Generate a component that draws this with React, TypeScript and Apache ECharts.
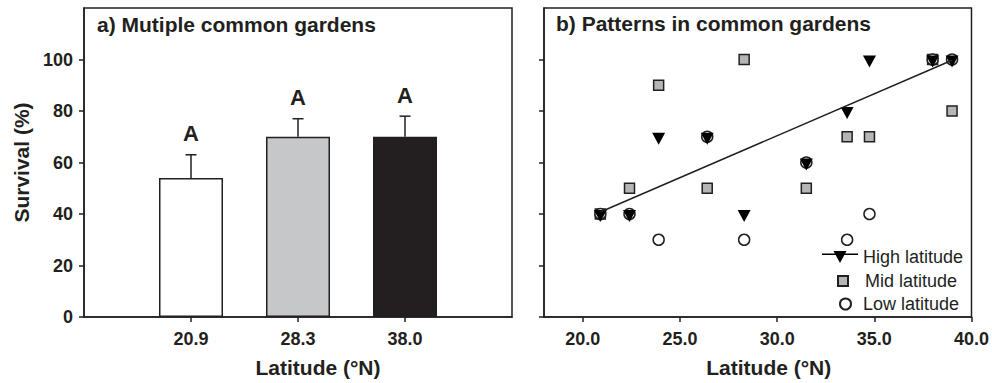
import React, { useEffect, useRef } from "react";
import * as echarts from "echarts";

// ---- Panel a) data ----
const latitudeLabels = ["20.9", "28.3", "38.0"];
const survivalMean = [54, 70, 70];
const survivalErr = [9, 7, 8];
const groupLetters = ["A", "A", "A"];
const barColors = ["#ffffff", "#c6c7c9", "#231f20"];

// ---- Panel b) data ----
const siteLat = [20.9, 22.4, 23.9, 26.4, 28.3, 31.5, 33.6, 34.75, 38.0, 39.0];
const highSurv = [40, 40, 70, 70, 40, 60, 80, 100, 100, 100];
const midSurv = [40, 50, 90, 50, 100, 50, 70, 70, 100, 80];
const lowSurv = [40, 40, 30, 70, 30, 60, 30, 40, 100, 100];

const yTicks = [0, 20, 40, 60, 80, 100];
const xTicksB = [20, 25, 30, 35, 40];

const FONT = "'Liberation Sans', Arial, Helvetica, sans-serif";
const INK = "#231f20";

function linFit(xs: number[], ys: number[]) {
  const n = xs.length;
  const mx = xs.reduce((a, b) => a + b, 0) / n;
  const my = ys.reduce((a, b) => a + b, 0) / n;
  let sxy = 0, sxx = 0;
  for (let i = 0; i < n; i++) {
    sxy += (xs[i] - mx) * (ys[i] - my);
    sxx += (xs[i] - mx) * (xs[i] - mx);
  }
  const slope = sxy / sxx;
  return { slope, intercept: my - slope * mx };
}

export default function App() {
  const ref = useRef<HTMLDivElement>(null);
  useEffect(() => {
    if (!ref.current) return;
    const chart = echarts.init(ref.current, undefined, { renderer: "svg" });

    const cats = ["", ...latitudeLabels, ""];
    const barData = [null as any].concat(
      survivalMean.map((v, i) => ({ value: v, itemStyle: { color: barColors[i] } })),
      [null]
    );
    const errData = survivalMean.map((v, i) => [i + 1, v, survivalErr[i]]);

    const fit = linFit(siteLat, highSurv);
    const xMin = Math.min(...siteLat);
    const xMax = Math.max(...siteLat);
    const fitData = [
      [xMin, fit.intercept + fit.slope * xMin],
      [xMax, fit.intercept + fit.slope * xMax],
    ];

    const axisLineStyle = { lineStyle: { color: INK, width: 1.5 } };
    const tickLabel = { color: INK, fontFamily: FONT, fontWeight: "bold" as const, fontSize: 18 };
    const nameStyle = { color: INK, fontFamily: FONT, fontWeight: "bold" as const, fontSize: 21 };

    const option: any = {
      animation: false,
      backgroundColor: "#ffffff",
      title: [
        {
          text: "a) Mutiple common gardens",
          left: 97,
          top: 14,
          padding: 0,
          textStyle: { ...nameStyle },
        },
        {
          text: "b) Patterns in common gardens",
          left: 556,
          top: 13,
          padding: 0,
          textStyle: { ...nameStyle },
        },
      ],
      grid: [
        { left: 84, top: 8, width: 428, height: 309, show: true, borderColor: INK, borderWidth: 1.5, backgroundColor: "transparent" },
        { left: 544, top: 8, width: 428, height: 309, show: true, borderColor: INK, borderWidth: 1.5, backgroundColor: "transparent" },
      ],
      xAxis: [
        {
          type: "category",
          gridIndex: 0,
          data: cats,
          boundaryGap: false,
          axisLine: axisLineStyle,
          axisTick: {
            length: 5,
            lineStyle: { color: INK, width: 1.5 },
            interval: (idx: number) => idx >= 1 && idx <= latitudeLabels.length,
          },
          axisLabel: { ...tickLabel, margin: 13, interval: 0 },
          splitLine: { show: false },
          name: "Latitude (°N)",
          nameLocation: "middle",
          nameGap: 40,
          nameTextStyle: { ...nameStyle, padding: [0, 0, 0, 40] },
        },
        {
          type: "value",
          gridIndex: 1,
          min: 18,
          max: 40,
          axisLine: axisLineStyle,
          axisTick: { length: 5, lineStyle: { color: INK, width: 1.5 }, customValues: xTicksB },
          axisLabel: { ...tickLabel, margin: 13, customValues: xTicksB, formatter: (v: number) => v.toFixed(1) },
          splitLine: { show: false },
          name: "Latitude (°N)",
          nameLocation: "middle",
          nameGap: 40,
          nameTextStyle: { ...nameStyle, padding: [0, 0, 0, 22] },
        },
      ],
      yAxis: [
        {
          type: "value",
          gridIndex: 0,
          min: 0,
          max: 120,
          axisLine: { show: true, ...axisLineStyle },
          axisTick: { show: true, length: 5, lineStyle: { color: INK, width: 1.5 }, customValues: yTicks },
          axisLabel: { ...tickLabel, margin: 11, customValues: yTicks },
          splitLine: { show: false },
          name: "Survival (%)",
          nameLocation: "middle",
          nameGap: 52,
          nameTextStyle: { ...nameStyle },
        },
        {
          type: "value",
          gridIndex: 1,
          min: 0,
          max: 120,
          axisLine: { show: true, ...axisLineStyle },
          axisTick: { show: true, length: 5, lineStyle: { color: INK, width: 1.5 }, customValues: yTicks },
          axisLabel: { show: false },
          splitLine: { show: false },
        },
      ],
      legend: [
        {
          data: [
            {
              name: "High latitude",
              icon: "path://M0,2.5L36,2.5L36,4L0,4Z M11.5,0L24.5,0L18,12Z",
              itemStyle: { color: "#000000", borderWidth: 0 },
            },
          ],
          left: 822,
          top: 248,
          padding: 0,
          itemWidth: 36,
          itemHeight: 12,
          selectedMode: false,
          textStyle: { color: INK, fontFamily: FONT, fontSize: 18 },
        },
        {
          data: [{ name: "Mid latitude", icon: "rect" }],
          left: 837,
          top: 272,
          padding: 0,
          itemWidth: 10,
          itemHeight: 10,
          selectedMode: false,
          textStyle: { color: INK, fontFamily: FONT, fontSize: 18, padding: [0, 0, 0, 12] },
        },
        {
          data: [{ name: "Low latitude", icon: "circle" }],
          left: 839,
          top: 295,
          padding: 0,
          itemWidth: 11,
          itemHeight: 11,
          selectedMode: false,
          textStyle: { color: INK, fontFamily: FONT, fontSize: 18, padding: [0, 0, 0, 7] },
        },
      ],
      series: [
        {
          type: "bar",
          xAxisIndex: 0,
          yAxisIndex: 0,
          data: barData,
          barWidth: 64,
          itemStyle: { borderColor: INK, borderWidth: 1.5 },
          z: 2,
        },
        {
          type: "custom",
          xAxisIndex: 0,
          yAxisIndex: 0,
          data: errData,
          z: 3,
          renderItem: (params: any, api: any) => {
            const x = api.value(0);
            const y = api.value(1);
            const e = api.value(2);
            const p0 = api.coord([x, y]);
            const p1 = api.coord([x, y + e]);
            const cap = 5.5;
            const ls = { stroke: INK, lineWidth: 1.5 };
            return {
              type: "group",
              children: [
                { type: "line", shape: { x1: p0[0], y1: p0[1], x2: p1[0], y2: p1[1] }, style: ls },
                { type: "line", shape: { x1: p1[0] - cap, y1: p1[1], x2: p1[0] + cap, y2: p1[1] }, style: ls },
                {
                  type: "text",
                  x: p1[0],
                  y: p1[1] - 21,
                  style: {
                    text: groupLetters[params.dataIndex],
                    align: "center",
                    verticalAlign: "middle",
                    fill: INK,
                    font: `bold 22px ${FONT}`,
                  },
                },
              ],
            };
          },
        },
        {
          name: "Mid latitude",
          type: "scatter",
          xAxisIndex: 1,
          yAxisIndex: 1,
          data: siteLat.map((x, i) => [x, midSurv[i]]),
          symbol: "rect",
          symbolSize: 10,
          itemStyle: { color: "#b4b5b7", borderColor: INK, borderWidth: 1.5, opacity: 1 },
          z: 3,
        },
        {
          name: "Low latitude",
          type: "scatter",
          xAxisIndex: 1,
          yAxisIndex: 1,
          data: siteLat.map((x, i) => [x, lowSurv[i]]),
          symbol: "circle",
          symbolSize: 11,
          itemStyle: { color: "#ffffff", borderColor: INK, borderWidth: 1.5, opacity: 1 },
          z: 4,
        },
        {
          name: "High latitude",
          type: "scatter",
          xAxisIndex: 1,
          yAxisIndex: 1,
          data: siteLat.map((x, i) => [x, highSurv[i]]),
          symbol: "triangle",
          symbolRotate: 180,
          symbolSize: [13, 12],
          symbolOffset: [0, 2],
          itemStyle: { color: "#000000", opacity: 1 },
          z: 5,
        },
        {
          name: "High latitude fit",
          type: "line",
          xAxisIndex: 1,
          yAxisIndex: 1,
          data: fitData,
          symbol: "none",
          lineStyle: { color: INK, width: 1.5 },
          z: 6,
        },
      ],
    };

    chart.setOption(option);
    return () => chart.dispose();
  }, []);

  return <div ref={ref} style={{ width: 992, height: 383, position: "absolute", left: 0, top: 0 }} />;
}
